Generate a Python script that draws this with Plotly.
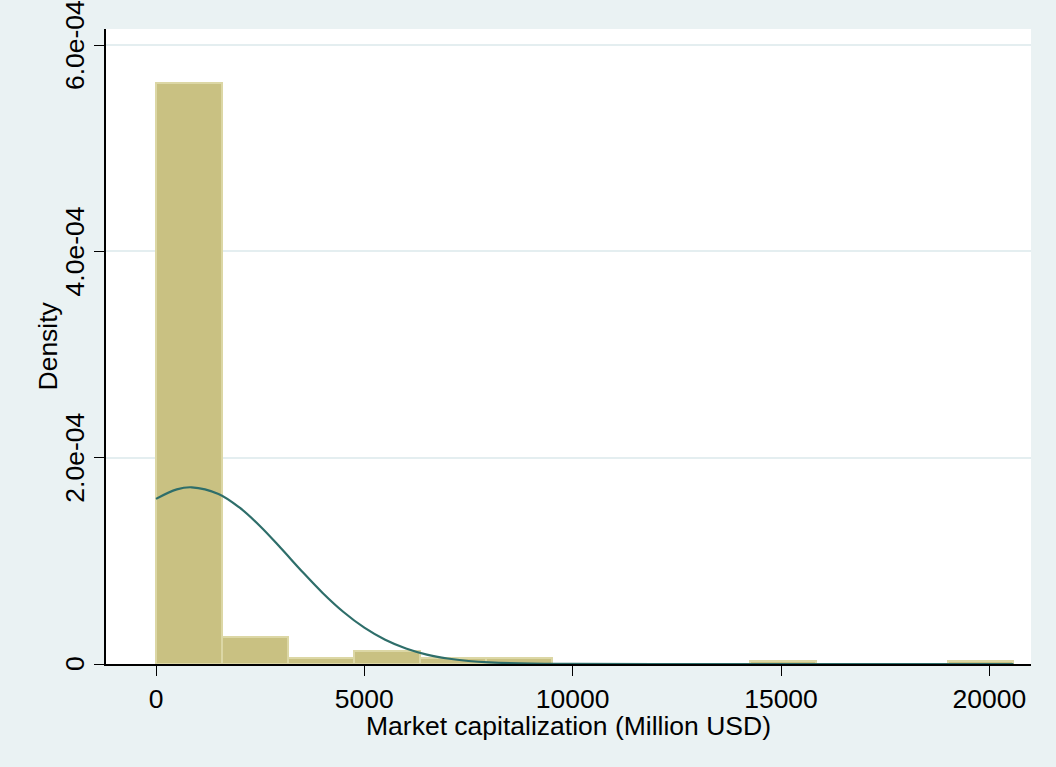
import plotly.graph_objects as go

# ---- data ----
bin_edges = [0, 1583, 3166, 4749, 6332, 7915, 9498, 11081, 12664, 14247,
             15830, 17413, 18996, 20579]
densities = [5.633e-4, 2.66e-5, 5.8e-6, 1.30e-5, 5.8e-6, 5.8e-6, 0.0, 0.0,
             0.0, 2.9e-6, 0.0, 0.0, 2.9e-6]

curve_x = [0, 500, 857, 1500, 2000, 2500, 3000, 3500, 4000, 4500, 5000,
           5500, 6000, 6500, 7000, 7500, 8000, 9000, 10000, 12000, 20579]
curve_y = [1.601e-4, 1.693e-4, 1.713e-4, 1.649e-4, 1.518e-4, 1.336e-4,
           1.122e-4, 9.0e-5, 6.89e-5, 5.04e-5, 3.52e-5, 2.35e-5, 1.50e-5,
           9.1e-6, 5.3e-6, 2.9e-6, 1.55e-6, 3.8e-7, 8e-8, 0.0, 0.0]

x_ticks = [0, 5000, 10000, 15000, 20000]
x_ticklabels = ["0", "5000", "10000", "15000", "20000"]
y_ticks = [0, 2e-4, 4e-4, 6e-4]
y_ticklabels = ["0", "2.0e-04", "4.0e-04", "6.0e-04"]

x_title = "Market capitalization (Million USD)"
y_title = "Density"

# ---- build ----
centers = [(a + b) / 2 for a, b in zip(bin_edges[:-1], bin_edges[1:])]
widths = [b - a for a, b in zip(bin_edges[:-1], bin_edges[1:])]

FONT = "Liberation Sans, Arial, sans-serif"
BG = "#EAF2F3"
FS = 26.5

fig = go.Figure()
fig.add_trace(go.Bar(
    x=centers, y=densities, width=widths,
    marker=dict(color="#C9C182", line=dict(color="#DCD7A5", width=2)),
    showlegend=False, hoverinfo="x+y",
))
fig.add_trace(go.Scatter(
    x=curve_x, y=curve_y, mode="lines",
    line=dict(color="#2E6E6A", width=2.2, shape="spline", smoothing=1.0),
    showlegend=False,
))

fig.update_layout(
    width=1056, height=767,
    margin=dict(l=106, r=25, t=29, b=103),
    paper_bgcolor=BG, plot_bgcolor="white",
    font=dict(family=FONT, size=FS, color="black"),
    bargap=0,
)
fig.update_xaxes(
    range=[-1200, 21000], automargin=False,
    tickvals=x_ticks, ticktext=x_ticklabels,
    ticks="outside", ticklen=10, tickwidth=1, tickcolor="black",
    ticklabelstandoff=0,
    showline=True, linecolor="black", linewidth=1.5,
    showgrid=False, zeroline=False,
    tickfont=dict(size=FS),
)
fig.update_yaxes(
    range=[0, 6.156e-4], automargin=False,
    tickvals=y_ticks, showticklabels=False,
    ticks="outside", ticklen=10, tickwidth=1, tickcolor="black",
    showline=True, linecolor="black", linewidth=1.5,
    showgrid=True, gridcolor="#E4EEF0", gridwidth=1.5,
    zeroline=False,
)

# rotated y tick labels (centred on their ticks, as in the reference)
for v, t in zip(y_ticks, y_ticklabels):
    fig.add_annotation(
        x=0, xref="paper", y=v, yref="y", text=t, showarrow=False,
        textangle=-90, xanchor="center", yanchor="middle", xshift=-31,
        font=dict(size=FS, color="black"),
    )

# axis titles
fig.add_annotation(
    x=0.5, xref="paper", y=0, yref="paper", yshift=-62, text=x_title,
    showarrow=False, xanchor="center", yanchor="middle",
    font=dict(size=FS, color="black"),
)
fig.add_annotation(
    x=0, xref="paper", xshift=-59, y=0.5, yref="paper", text=y_title,
    showarrow=False, textangle=-90, xanchor="center", yanchor="middle",
    font=dict(size=FS, color="black"),
)

fig.write_html("out.html")
